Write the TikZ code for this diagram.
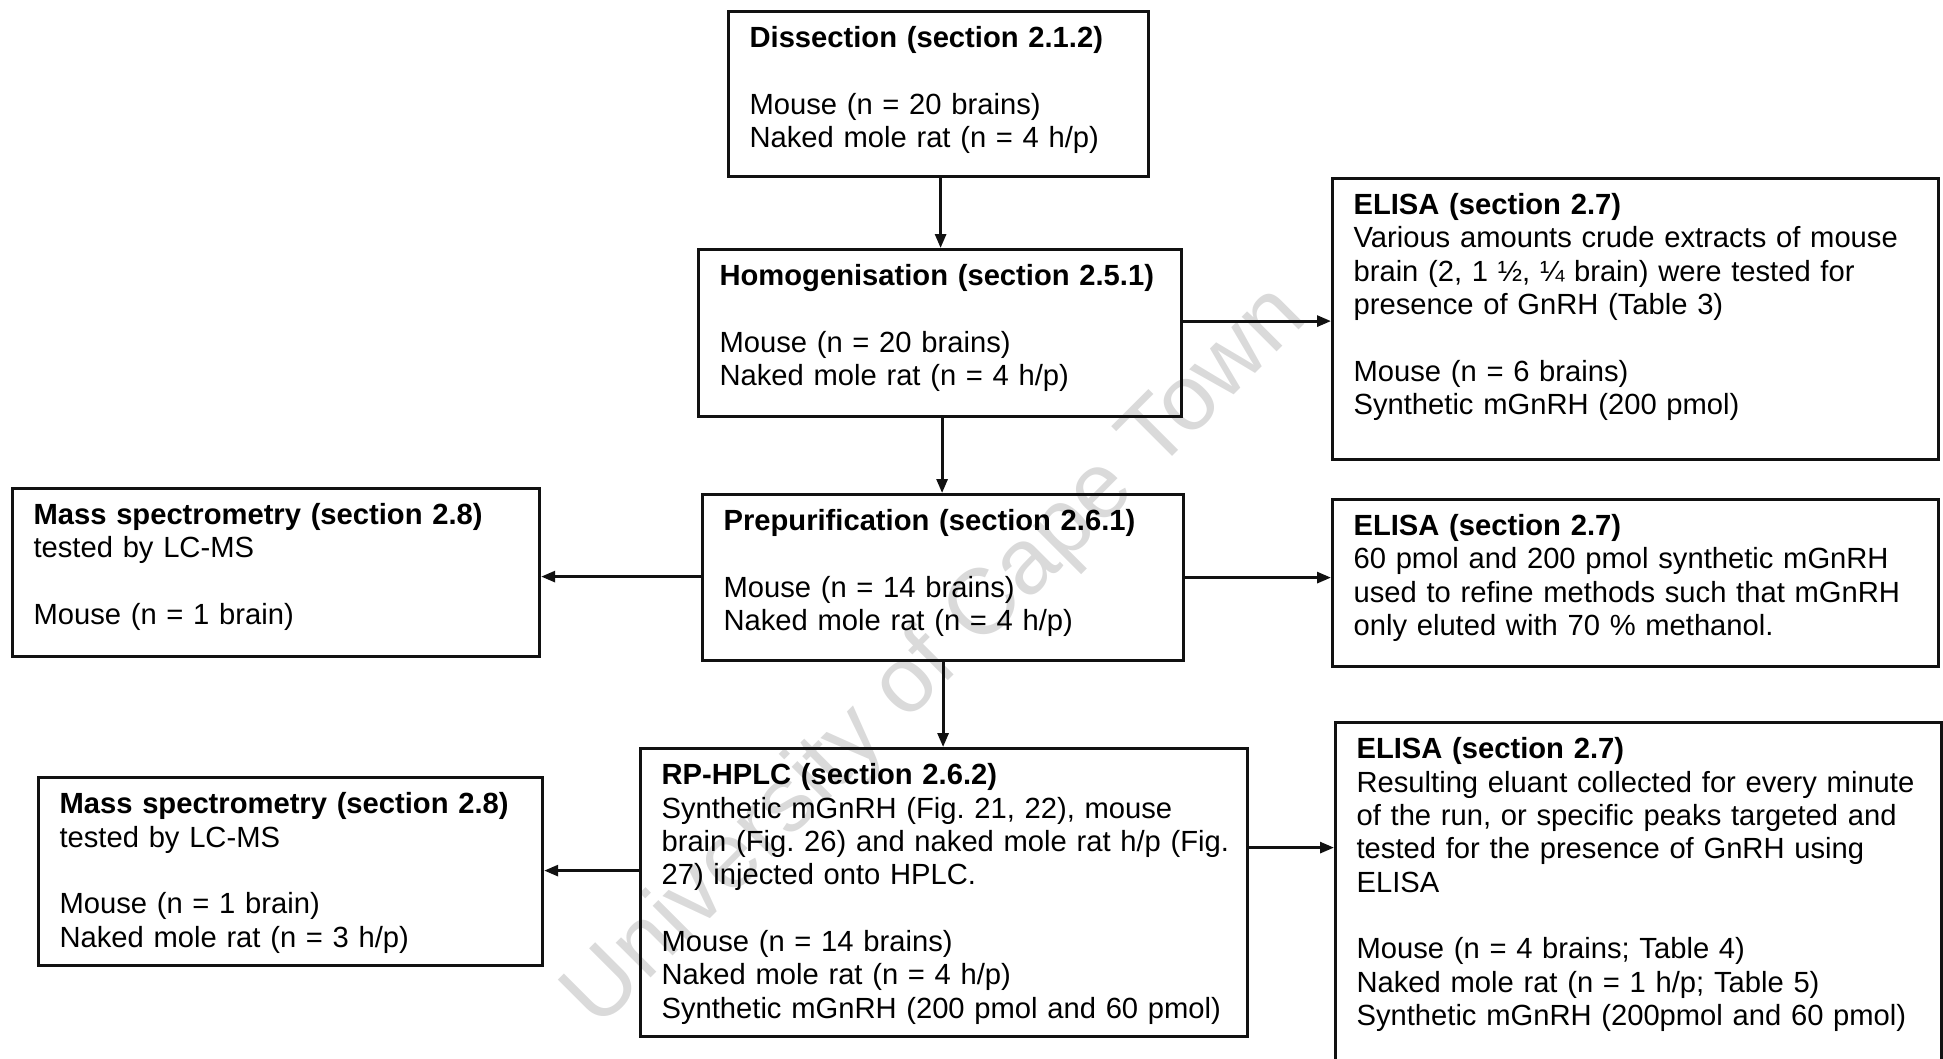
\documentclass[tikz,border=0pt]{standalone}
\usepackage{fontspec}
\setmainfont{Liberation Sans}
\usetikzlibrary{arrows.meta, positioning}
\definecolor{ink}{HTML}{111111}
\definecolor{wmark}{HTML}{DADADA}
\tikzset{
  box/.style      = {rectangle, draw=ink, line width=0.9pt, anchor=north west,
                      align=left, font=\fontsize{8.3}{9.5}\selectfont\frenchspacing,
                      inner xsep=0.21cm, inner ysep=0.1cm, text height=0.26cm},
  boxsize/.style 2 args = {text width=#1cm-0.42cm, text depth=#2cm-0.46cm},
  flow/.style     = {-{Triangle[length=1.4mm, width=1.1mm]}, line width=0.8pt, draw=ink},
  wm/.style       = {font=\fontsize{26.5}{27}\selectfont, text=wmark, rotate=45},
}
\newcommand{\gap}{\\[9.5pt]}

\begin{document}
\begin{tikzpicture}
  \useasboundingbox (0,0) rectangle (19.43,-10.58);
  \node[wm] (wmk) at (9.37,-6.58) {University of Cape Town};

  % central column
  \node[box, boxsize={4.20}{1.65}] (dis) at (7.27,-0.10)
    {\textbf{Dissection (section 2.1.2)}\gap Mouse (n = 20 brains)\\Naked mole rat (n = 4 h/p)};
  \node[box, boxsize={4.83}{1.67}] (hom) at (6.97,-2.48)
    {\textbf{Homogenisation (section 2.5.1)}\gap Mouse (n = 20 brains)\\Naked mole rat (n = 4 h/p)};
  \node[box, boxsize={4.81}{1.66}] (pre) at (7.01,-4.93)
    {\textbf{Prepurification (section 2.6.1)}\gap Mouse (n = 14 brains)\\Naked mole rat (n = 4 h/p)};
  \node[box, boxsize={6.07}{2.88}] (rp) at (6.39,-7.47)
    {\textbf{RP-HPLC (section 2.6.2)}\\Synthetic mGnRH (Fig. 21, 22), mouse\\\mbox{brain (Fig. 26) and naked mole rat h/p (Fig.}\\27) injected onto HPLC.\gap
     Mouse (n = 14 brains)\\Naked mole rat (n = 4 h/p)\\Synthetic mGnRH (200 pmol and 60 pmol)};

  % ELISA side
  \node[box, boxsize={6.06}{2.81}] (el1) at (13.31,-1.77)
    {\textbf{ELISA (section 2.7)}\\Various amounts crude extracts of mouse\\brain (2, 1 ½, ¼ brain) were tested for\\presence of GnRH (Table 3)\gap
     Mouse (n = 6 brains)\\Synthetic mGnRH (200 pmol)};
  \node[box, boxsize={6.06}{1.67}] (el2) at (13.31,-4.98)
    {\textbf{ELISA (section 2.7)}\\60 pmol and 200 pmol synthetic mGnRH\\used to refine methods such that mGnRH\\only eluted with 70 \% methanol.};
  \node[box, boxsize={6.06}{3.60}] (el3) at (13.34,-7.21)
    {\textbf{ELISA (section 2.7)}\\Resulting eluant collected for every minute\\of the run, or specific peaks targeted and\\tested for the presence of GnRH using\\ELISA\gap
     Mouse (n = 4 brains; Table 4)\\Naked mole rat (n = 1 h/p; Table 5)\\Synthetic mGnRH (200pmol and 60 pmol)};

  % mass spectrometry side
  \node[box, boxsize={5.27}{1.68}] (ms1) at (0.11,-4.87)
    {\textbf{Mass spectrometry (section 2.8)}\\tested by LC-MS\gap Mouse (n = 1 brain)};
  \node[box, boxsize={5.04}{1.88}] (ms2) at (0.37,-7.76)
    {\textbf{Mass spectrometry (section 2.8)}\\tested by LC-MS\gap Mouse (n = 1 brain)\\Naked mole rat (n = 3 h/p)};

  % connectors
  \draw[flow] ([xshift=0.02cm]dis.south) -- ([xshift=0.02cm]dis.south |- hom.north);
  \draw[flow] ([xshift=0.02cm]hom.south) -- ([xshift=0.02cm]hom.south |- pre.north);
  \draw[flow] (pre.south) -- (pre.south |- rp.north);
  \draw[flow] ([yshift=0.12cm]hom.east) -- ([yshift=0.12cm]hom.east -| el1.west);
  \draw[flow] (pre.east) -- (pre.east -| el2.west);
  \draw[flow] ([yshift=0.01cm]pre.west) -- ([yshift=0.01cm]pre.west -| ms1.east);
  \draw[flow] ([yshift=0.45cm]rp.east) -- ([yshift=0.45cm]rp.east -| el3.west);
  \draw[flow] ([yshift=0.22cm]rp.west) -- ([yshift=0.22cm]rp.west -| ms2.east);
\end{tikzpicture}
\end{document}
